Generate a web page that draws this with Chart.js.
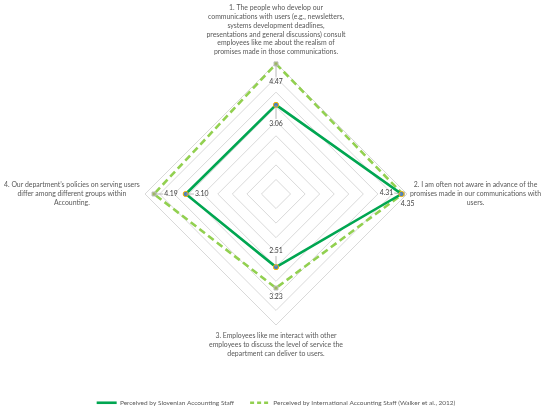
<!DOCTYPE html>
<html><head><meta charset="utf-8">
<script src="https://cdn.jsdelivr.net/npm/chart.js@4"></script>
<style>html,body{margin:0;padding:0;background:#fff}#wrap{width:550px;height:418px}</style>
</head><body><div id="wrap"><canvas id="c" width="550" height="418"></canvas></div>
<script>
const categories = [
  ["1. The people who develop our","communications with users (e.g., newsletters,","systems development deadlines,","presentations and general discussions) consult","employees like me about the realism of","promises made in those communications."],
  ["2. I am often not aware in advance of the","promises made in our communications with","users."],
  ["3. Employees like me interact with other","employees to discuss the level of service the","department can deliver to users."],
  ["4. Our department\u2019s policies on serving users","differ among different groups within","Accounting."]
];
const seriesNames = ["Perceived by Slovenian Accounting Staff","Perceived by International Accounting Staff (Walker et al., 2012)"];
const slovenian = [3.06, 4.31, 2.51, 3.10];
const international = [4.47, 4.35, 3.23, 4.19];
const scaleMin = 0, scaleMax = 4.5, scaleStep = 0.5;

const FONT = 'Lato';
const TEXT = '#595959';

// label offsets (styling) for value labels, per dataset per point
const valueLabelOffsets = [
  [[0,19],[-15,-1],[0,-16],[16,0]],
  [[0,18],[5,10],[0,9],[17,0]]
];

const axisLabelPlugin = {
  id: 'axisLabels',
  afterDraw(chart) {
    const s = chart.scales.r, ctx = chart.ctx;
    ctx.save();
    ctx.font = '6.9px ' + FONT;
    ctx.fillStyle = TEXT;
    ctx.textAlign = 'center';
    ctx.textBaseline = 'middle';
    const lh = 8.8;
    categories.forEach((lines, i) => {
      const p = s.getPointPosition(i, s.drawingArea);
      const n = lines.length;
      const w = Math.max(...lines.map(l => ctx.measureText(l).width));
      let cx, cy0;
      if (i === 0) { cx = p.x; cy0 = p.y - 11 - (n - 1) * lh; }
      else if (i === 2) { cx = p.x; cy0 = p.y + 11; }
      else if (i === 1) { cx = p.x + 3 + w / 2; cy0 = p.y - (n - 1) * lh / 2; }
      else { cx = Math.max(p.x - 6 - w / 2, w / 2 + 4); cy0 = p.y - (n - 1) * lh / 2; }
      lines.forEach((l, k) => ctx.fillText(l, cx, cy0 + k * lh));
    });
    ctx.restore();
  }
};

const valueLabelPlugin = {
  id: 'valueLabels',
  afterDatasetsDraw(chart) {
    const ctx = chart.ctx;
    ctx.save();
    ctx.font = '6.9px ' + FONT;
    ctx.textAlign = 'center';
    ctx.textBaseline = 'middle';
    chart.data.datasets.forEach((ds, di) => {
      const meta = chart.getDatasetMeta(di);
      meta.data.forEach((pt, i) => {
        const [dx, dy] = valueLabelOffsets[di][i];
        const txt = ds.data[i].toFixed(2);
        const w = ctx.measureText(txt).width;
        const lx = pt.x + dx, ly = pt.y + dy;
        ctx.strokeStyle = '#A6A6A6';
        ctx.lineWidth = 0.8;
        ctx.beginPath();
        if (dx === 0 && Math.abs(dy) > 10) {
          const end = ly - Math.sign(dy) * 5;
          ctx.moveTo(pt.x, pt.y); ctx.lineTo(pt.x, end); ctx.stroke();
        } else if (dy === 0 && Math.abs(dx) > 10) {
          const end = lx - Math.sign(dx) * (w / 2 + 1);
          ctx.moveTo(pt.x, pt.y); ctx.lineTo(end, pt.y); ctx.stroke();
        } else if (dx !== 0 && Math.abs(dx) > 10) {
          const end = lx - Math.sign(dx) * (w / 2 + 1);
          ctx.moveTo(pt.x, pt.y); ctx.lineTo(end, ly); ctx.stroke();
        }
        ctx.fillStyle = '#404040';
        ctx.fillText(txt, lx, ly);
      });
    });
    ctx.restore();
  }
};

new Chart(document.getElementById('c'), {
  type: 'radar',
  data: {
    labels: categories,
    datasets: [
      {
        label: seriesNames[0],
        data: slovenian,
        borderColor: '#00A651',
        backgroundColor: 'rgba(0,0,0,0)',
        borderWidth: 2.6,
        fill: false,
        pointStyle: 'circle',
        pointRadius: 2.6,
        pointBackgroundColor: '#4A7EBB',
        pointBorderColor: '#F5B800',
        pointBorderWidth: 1,
        tension: 0
      },
      {
        label: seriesNames[1],
        data: international,
        borderColor: '#92D050',
        backgroundColor: 'rgba(0,0,0,0)',
        borderWidth: 2.6,
        borderDash: [7, 4],
        fill: false,
        pointStyle: 'rect',
        pointRadius: 2.8,
        pointBackgroundColor: '#9BBB59',
        pointBorderColor: '#BFBFBF',
        pointBorderWidth: 1,
        tension: 0
      }
    ]
  },
  options: {
    responsive: false,
    animation: false,
    devicePixelRatio: 1,
    layout: { padding: { top: 63, bottom: 2, left: 2, right: 0 } },
    scales: {
      r: {
        min: scaleMin,
        max: scaleMax,
        ticks: { stepSize: scaleStep, display: false },
        grid: { color: '#D9D9D9', lineWidth: 1 },
        angleLines: { display: false },
        pointLabels: { display: false }
      }
    },
    plugins: {
      tooltip: { enabled: false },
      legend: {
        position: 'bottom',
        align: 'center',
        title: { display: true, text: '', padding: { top: 50, bottom: 0 }, font: { size: 7 } },
        labels: {
          usePointStyle: true,
          pointStyle: 'line',
          pointStyleWidth: 20,
          boxHeight: 7,
          padding: 16,
          color: TEXT,
          font: { family: FONT, size: 6.5 },
          generateLabels(chart) {
            return chart.data.datasets.map((ds, i) => ({
              text: ds.label,
              fillStyle: ds.borderColor,
              strokeStyle: ds.borderColor,
              lineWidth: ds.borderWidth,
              lineDash: ds.borderDash ? [4, 3] : [],
              pointStyle: 'line',
              fontColor: TEXT,
              hidden: false,
              datasetIndex: i
            }));
          }
        }
      }
    }
  },
  plugins: [axisLabelPlugin, valueLabelPlugin]
});
</script>
</body></html>
